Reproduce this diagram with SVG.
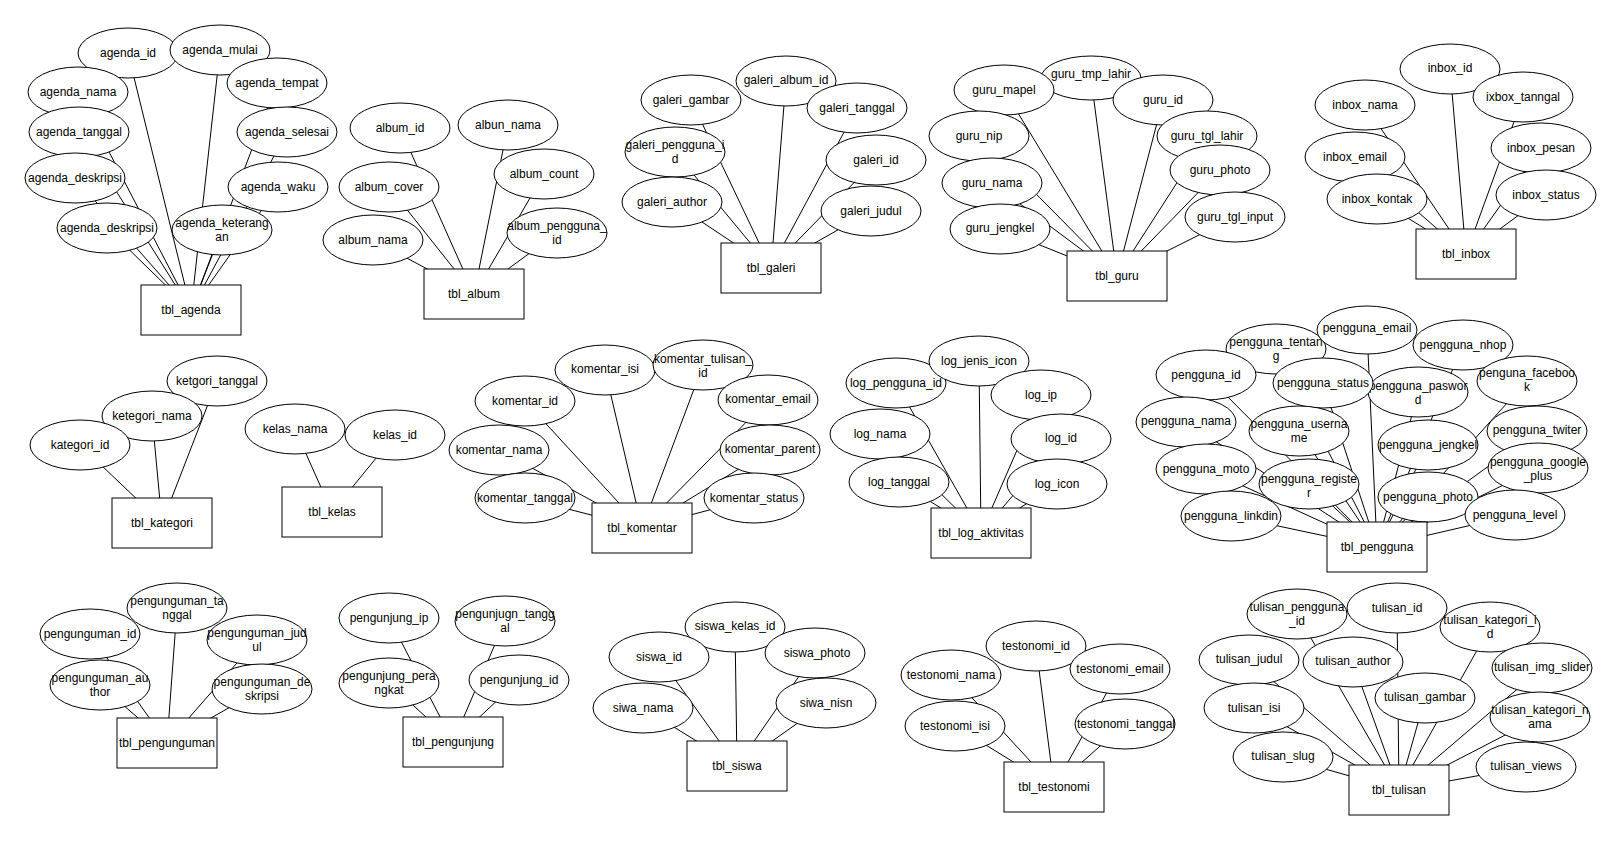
<svg xmlns="http://www.w3.org/2000/svg" width="1622" height="841" viewBox="0 0 1622 841">
<style>
.n ellipse{fill:#fff;stroke:#000;stroke-width:1}
.n rect{fill:#fff;stroke:#000;stroke-width:1}
.n text{font-family:"Liberation Sans",Arial,sans-serif;font-size:12px;fill:#000;text-anchor:middle}
#connectors line{stroke:#000;stroke-width:1}
</style>
<rect width="1622" height="841" fill="#fff"/>
<g id="connectors">
<!-- agenda -->
<line x1="128" y1="53" x2="191" y2="310"/><line x1="220" y1="50" x2="191" y2="310"/><line x1="78" y1="92" x2="191" y2="310"/><line x1="277" y1="83" x2="191" y2="310"/><line x1="79" y1="132" x2="191" y2="310"/><line x1="287" y1="132" x2="191" y2="310"/><line x1="75" y1="178" x2="191" y2="310"/><line x1="278" y1="187" x2="191" y2="310"/><line x1="107" y1="228" x2="191" y2="310"/><line x1="222" y1="230" x2="191" y2="310"/>
<!-- album -->
<line x1="400" y1="128" x2="474" y2="294"/><line x1="508" y1="125" x2="474" y2="294"/><line x1="544" y1="174" x2="474" y2="294"/><line x1="389" y1="187" x2="474" y2="294"/><line x1="373" y1="240" x2="474" y2="294"/><line x1="557" y1="233" x2="474" y2="294"/>
<!-- galeri -->
<line x1="691" y1="100" x2="771" y2="268"/><line x1="786" y1="80" x2="771" y2="268"/><line x1="857" y1="108" x2="771" y2="268"/><line x1="675" y1="152" x2="771" y2="268"/><line x1="876" y1="160" x2="771" y2="268"/><line x1="672" y1="202" x2="771" y2="268"/><line x1="871" y1="211" x2="771" y2="268"/>
<!-- guru -->
<line x1="1091" y1="78" x2="1117" y2="276"/><line x1="1004" y1="90" x2="1117" y2="276"/><line x1="1163" y1="100" x2="1117" y2="276"/><line x1="979" y1="136" x2="1117" y2="276"/><line x1="1207" y1="136" x2="1117" y2="276"/><line x1="1220" y1="170" x2="1117" y2="276"/><line x1="992" y1="183" x2="1117" y2="276"/><line x1="1235" y1="217" x2="1117" y2="276"/><line x1="1000" y1="229" x2="1117" y2="276"/>
<!-- inbox -->
<line x1="1450" y1="69" x2="1466" y2="254"/><line x1="1365" y1="105" x2="1466" y2="254"/><line x1="1523" y1="97" x2="1466" y2="254"/><line x1="1355" y1="157" x2="1466" y2="254"/><line x1="1541" y1="148" x2="1466" y2="254"/><line x1="1377" y1="199" x2="1466" y2="254"/><line x1="1546" y1="195" x2="1466" y2="254"/>
<!-- kategori -->
<line x1="217" y1="381" x2="162" y2="523"/><line x1="152" y1="416" x2="162" y2="523"/><line x1="80" y1="445" x2="162" y2="523"/>
<!-- kelas -->
<line x1="295" y1="429" x2="332" y2="512"/><line x1="395" y1="435" x2="332" y2="512"/>
<!-- komentar -->
<line x1="605" y1="370" x2="642" y2="528"/><line x1="703" y1="365" x2="642" y2="528"/><line x1="525" y1="401" x2="642" y2="528"/><line x1="768" y1="400" x2="642" y2="528"/><line x1="499" y1="450" x2="642" y2="528"/><line x1="770" y1="450" x2="642" y2="528"/><line x1="525" y1="498" x2="642" y2="528"/><line x1="754" y1="498" x2="642" y2="528"/>
<!-- log -->
<line x1="979" y1="361" x2="981" y2="533"/><line x1="896" y1="383" x2="981" y2="533"/><line x1="1041" y1="395" x2="981" y2="533"/><line x1="880" y1="434" x2="981" y2="533"/><line x1="1061" y1="439" x2="981" y2="533"/><line x1="899" y1="482" x2="981" y2="533"/><line x1="1057" y1="484" x2="981" y2="533"/>
<!-- pengguna -->
<line x1="1367" y1="330" x2="1377" y2="547"/><line x1="1276" y1="349" x2="1377" y2="547"/><line x1="1463" y1="345" x2="1377" y2="547"/><line x1="1206" y1="375" x2="1377" y2="547"/><line x1="1323" y1="383" x2="1377" y2="547"/><line x1="1418" y1="392" x2="1377" y2="547"/><line x1="1527" y1="381" x2="1377" y2="547"/><line x1="1186" y1="422" x2="1377" y2="547"/><line x1="1299" y1="431" x2="1377" y2="547"/><line x1="1537" y1="431" x2="1377" y2="547"/><line x1="1428" y1="445" x2="1377" y2="547"/><line x1="1538" y1="468" x2="1377" y2="547"/><line x1="1206" y1="469" x2="1377" y2="547"/><line x1="1309" y1="484" x2="1377" y2="547"/><line x1="1428" y1="497" x2="1377" y2="547"/><line x1="1231" y1="516" x2="1377" y2="547"/><line x1="1515" y1="515" x2="1377" y2="547"/>
<!-- pengunguman -->
<line x1="90" y1="634" x2="167" y2="743"/><line x1="177" y1="608" x2="167" y2="743"/><line x1="257" y1="640" x2="167" y2="743"/><line x1="100" y1="685" x2="167" y2="743"/><line x1="262" y1="689" x2="167" y2="743"/>
<!-- pengunjung -->
<line x1="389" y1="618" x2="453" y2="742"/><line x1="505" y1="621" x2="453" y2="742"/><line x1="389" y1="683" x2="453" y2="742"/><line x1="519" y1="680" x2="453" y2="742"/>
<!-- siswa -->
<line x1="735" y1="627" x2="737" y2="766"/><line x1="659" y1="657" x2="737" y2="766"/><line x1="815" y1="653" x2="737" y2="766"/><line x1="643" y1="708" x2="737" y2="766"/><line x1="826" y1="703" x2="737" y2="766"/>
<!-- testonomi -->
<line x1="1036" y1="646" x2="1054" y2="787"/><line x1="951" y1="675" x2="1054" y2="787"/><line x1="1120" y1="669" x2="1054" y2="787"/><line x1="955" y1="726" x2="1054" y2="787"/><line x1="1125" y1="724" x2="1054" y2="787"/>
<!-- tulisan -->
<line x1="1297" y1="614" x2="1399" y2="790"/><line x1="1397" y1="608" x2="1399" y2="790"/><line x1="1490" y1="627" x2="1399" y2="790"/><line x1="1249" y1="660" x2="1399" y2="790"/><line x1="1353" y1="662" x2="1399" y2="790"/><line x1="1542" y1="668" x2="1399" y2="790"/><line x1="1425" y1="698" x2="1399" y2="790"/><line x1="1254" y1="708" x2="1399" y2="790"/><line x1="1540" y1="717" x2="1399" y2="790"/><line x1="1283" y1="757" x2="1399" y2="790"/><line x1="1526" y1="767" x2="1399" y2="790"/>
</g>

<g class="n">
<!-- agenda -->
<g id="agenda_id"><ellipse cx="128" cy="53" rx="50" ry="25"/><text x="128" y="57">agenda_id</text></g>
<g id="agenda_mulai"><ellipse cx="220" cy="50" rx="50" ry="25"/><text x="220" y="54">agenda_mulai</text></g>
<g id="agenda_nama"><ellipse cx="78" cy="92" rx="50" ry="25"/><text x="78" y="96">agenda_nama</text></g>
<g id="agenda_tempat"><ellipse cx="277" cy="83" rx="50" ry="25"/><text x="277" y="87">agenda_tempat</text></g>
<g id="agenda_tanggal"><ellipse cx="79" cy="132" rx="50" ry="25"/><text x="79" y="136">agenda_tanggal</text></g>
<g id="agenda_selesai"><ellipse cx="287" cy="132" rx="50" ry="25"/><text x="287" y="136">agenda_selesai</text></g>
<g id="agenda_deskripsi_1"><ellipse cx="75" cy="178" rx="50" ry="25"/><text x="75" y="182">agenda_deskripsi</text></g>
<g id="agenda_waku"><ellipse cx="278" cy="187" rx="50" ry="25"/><text x="278" y="191">agenda_waku</text></g>
<g id="agenda_deskripsi_2"><ellipse cx="107" cy="228" rx="50" ry="25"/><text x="107" y="232">agenda_deskripsi</text></g>
<g id="agenda_keterangan"><ellipse cx="222" cy="230" rx="50" ry="25"/><text x="222" y="227">agenda_keterang</text><text x="222" y="241">an</text></g>
<g id="tbl_agenda"><rect x="141" y="285" width="100" height="50"/><text x="191" y="314">tbl_agenda</text></g>

<!-- album -->
<g id="album_id"><ellipse cx="400" cy="128" rx="50" ry="25"/><text x="400" y="132">album_id</text></g>
<g id="albun_nama"><ellipse cx="508" cy="125" rx="50" ry="25"/><text x="508" y="129">albun_nama</text></g>
<g id="album_count"><ellipse cx="544" cy="174" rx="50" ry="25"/><text x="544" y="178">album_count</text></g>
<g id="album_cover"><ellipse cx="389" cy="187" rx="50" ry="25"/><text x="389" y="191">album_cover</text></g>
<g id="album_nama"><ellipse cx="373" cy="240" rx="50" ry="25"/><text x="373" y="244">album_nama</text></g>
<g id="album_pengguna_id"><ellipse cx="557" cy="233" rx="50" ry="25"/><text x="557" y="230">album_pengguna_</text><text x="557" y="244">id</text></g>
<g id="tbl_album"><rect x="424" y="269" width="100" height="50"/><text x="474" y="298">tbl_album</text></g>

<!-- galeri -->
<g id="galeri_gambar"><ellipse cx="691" cy="100" rx="50" ry="25"/><text x="691" y="104">galeri_gambar</text></g>
<g id="galeri_album_id"><ellipse cx="786" cy="81" rx="50" ry="25"/><text x="786" y="84">galeri_album_id</text></g>
<g id="galeri_tanggal"><ellipse cx="857" cy="108" rx="50" ry="25"/><text x="857" y="112">galeri_tanggal</text></g>
<g id="galeri_pengguna_id"><ellipse cx="675" cy="152" rx="50" ry="25"/><text x="675" y="149">galeri_pengguna_i</text><text x="675" y="163">d</text></g>
<g id="galeri_id"><ellipse cx="876" cy="160" rx="50" ry="25"/><text x="876" y="164">galeri_id</text></g>
<g id="galeri_author"><ellipse cx="672" cy="202" rx="50" ry="25"/><text x="672" y="206">galeri_author</text></g>
<g id="galeri_judul"><ellipse cx="871" cy="211" rx="50" ry="25"/><text x="871" y="215">galeri_judul</text></g>
<g id="tbl_galeri"><rect x="721" y="243" width="100" height="50"/><text x="771" y="272">tbl_galeri</text></g>

<!-- guru -->
<g id="guru_tmp_lahir"><ellipse cx="1091" cy="78" rx="50" ry="22"/><text x="1091" y="78">guru_tmp_lahir</text></g>
<g id="guru_mapel"><ellipse cx="1004" cy="90" rx="50" ry="25"/><text x="1004" y="94">guru_mapel</text></g>
<g id="guru_id"><ellipse cx="1163" cy="100" rx="50" ry="25"/><text x="1163" y="104">guru_id</text></g>
<g id="guru_nip"><ellipse cx="979" cy="136" rx="50" ry="25"/><text x="979" y="140">guru_nip</text></g>
<g id="guru_tgl_lahir"><ellipse cx="1207" cy="136" rx="50" ry="25"/><text x="1207" y="140">guru_tgl_lahir</text></g>
<g id="guru_photo"><ellipse cx="1220" cy="170" rx="50" ry="25"/><text x="1220" y="174">guru_photo</text></g>
<g id="guru_nama"><ellipse cx="992" cy="183" rx="50" ry="25"/><text x="992" y="187">guru_nama</text></g>
<g id="guru_tgl_input"><ellipse cx="1235" cy="217" rx="50" ry="25"/><text x="1235" y="221">guru_tgl_input</text></g>
<g id="guru_jengkel"><ellipse cx="1000" cy="229" rx="50" ry="25"/><text x="1000" y="232">guru_jengkel</text></g>
<g id="tbl_guru"><rect x="1067" y="251" width="100" height="50"/><text x="1117" y="280">tbl_guru</text></g>

<!-- inbox -->
<g id="inbox_id"><ellipse cx="1450" cy="69" rx="50" ry="25"/><text x="1450" y="72">inbox_id</text></g>
<g id="inbox_nama"><ellipse cx="1365" cy="105" rx="50" ry="25"/><text x="1365" y="109">inbox_nama</text></g>
<g id="ixbox_tanngal"><ellipse cx="1523" cy="97" rx="50" ry="25"/><text x="1523" y="101">ixbox_tanngal</text></g>
<g id="inbox_email"><ellipse cx="1355" cy="157" rx="50" ry="25"/><text x="1355" y="161">inbox_email</text></g>
<g id="inbox_pesan"><ellipse cx="1541" cy="148" rx="50" ry="25"/><text x="1541" y="152">inbox_pesan</text></g>
<g id="inbox_kontak"><ellipse cx="1377" cy="199" rx="50" ry="25"/><text x="1377" y="203">inbox_kontak</text></g>
<g id="inbox_status"><ellipse cx="1546" cy="195" rx="50" ry="25"/><text x="1546" y="199">inbox_status</text></g>
<g id="tbl_inbox"><rect x="1416" y="229" width="100" height="50"/><text x="1466" y="258">tbl_inbox</text></g>

<!-- kategori -->
<g id="ketgori_tanggal"><ellipse cx="217" cy="381" rx="50" ry="25"/><text x="217" y="385">ketgori_tanggal</text></g>
<g id="ketegori_nama"><ellipse cx="152" cy="416" rx="50" ry="25"/><text x="152" y="420">ketegori_nama</text></g>
<g id="kategori_id"><ellipse cx="80" cy="445" rx="50" ry="25"/><text x="80" y="449">kategori_id</text></g>
<g id="tbl_kategori"><rect x="112" y="498" width="100" height="50"/><text x="162" y="527">tbl_kategori</text></g>

<!-- kelas -->
<g id="kelas_nama"><ellipse cx="295" cy="429" rx="50" ry="25"/><text x="295" y="433">kelas_nama</text></g>
<g id="kelas_id"><ellipse cx="395" cy="435" rx="50" ry="25"/><text x="395" y="439">kelas_id</text></g>
<g id="tbl_kelas"><rect x="282" y="487" width="100" height="50"/><text x="332" y="516">tbl_kelas</text></g>

<!-- komentar -->
<g id="komentar_isi"><ellipse cx="605" cy="370" rx="50" ry="25"/><text x="605" y="373">komentar_isi</text></g>
<g id="komentar_tulisan_id"><ellipse cx="703" cy="365" rx="50" ry="25"/><text x="703" y="363">komentar_tulisan_</text><text x="703" y="377">id</text></g>
<g id="komentar_id"><ellipse cx="525" cy="401" rx="50" ry="25"/><text x="525" y="405">komentar_id</text></g>
<g id="komentar_email"><ellipse cx="768" cy="400" rx="50" ry="25"/><text x="768" y="403">komentar_email</text></g>
<g id="komentar_nama"><ellipse cx="499" cy="450" rx="50" ry="25"/><text x="499" y="454">komentar_nama</text></g>
<g id="komentar_parent"><ellipse cx="770" cy="450" rx="50" ry="25"/><text x="770" y="453">komentar_parent</text></g>
<g id="komentar_tanggal"><ellipse cx="525" cy="498" rx="50" ry="25"/><text x="525" y="502">komentar_tanggal</text></g>
<g id="komentar_status"><ellipse cx="754" cy="498" rx="50" ry="25"/><text x="754" y="502">komentar_status</text></g>
<g id="tbl_komentar"><rect x="592" y="503" width="100" height="50"/><text x="642" y="532">tbl_komentar</text></g>

<!-- log -->
<g id="log_pengguna_id"><ellipse cx="896" cy="383" rx="50" ry="25"/><text x="896" y="387">log_pengguna_id</text></g>
<g id="log_jenis_icon"><ellipse cx="979" cy="361" rx="50" ry="25"/><text x="979" y="365">log_jenis_icon</text></g>
<g id="log_ip"><ellipse cx="1041" cy="395" rx="50" ry="25"/><text x="1041" y="399">log_ip</text></g>
<g id="log_nama"><ellipse cx="880" cy="434" rx="50" ry="25"/><text x="880" y="438">log_nama</text></g>
<g id="log_id"><ellipse cx="1061" cy="439" rx="50" ry="25"/><text x="1061" y="442">log_id</text></g>
<g id="log_tanggal"><ellipse cx="899" cy="482" rx="50" ry="25"/><text x="899" y="486">log_tanggal</text></g>
<g id="log_icon"><ellipse cx="1057" cy="484" rx="50" ry="25"/><text x="1057" y="488">log_icon</text></g>
<g id="tbl_log_aktivitas"><rect x="931" y="508" width="100" height="50"/><text x="981" y="537">tbl_log_aktivitas</text></g>

<!-- pengguna -->
<g id="pengguna_tentang"><ellipse cx="1276" cy="349" rx="50" ry="25"/><text x="1276" y="346">pengguna_tentan</text><text x="1276" y="360">g</text></g>
<g id="pengguna_email"><ellipse cx="1367" cy="330" rx="50" ry="24"/><text x="1367" y="332">pengguna_email</text></g>
<g id="pengguna_nhop"><ellipse cx="1463" cy="345" rx="50" ry="25"/><text x="1463" y="349">pengguna_nhop</text></g>
<g id="pengguna_id"><ellipse cx="1206" cy="375" rx="50" ry="25"/><text x="1206" y="379">pengguna_id</text></g>
<g id="pengguna_pasword"><ellipse cx="1418" cy="392" rx="50" ry="25"/><text x="1418" y="390">pengguna_paswor</text><text x="1418" y="404">d</text></g>
<g id="pengguna_status"><ellipse cx="1323" cy="383" rx="50" ry="25"/><text x="1323" y="387">pengguna_status</text></g>
<g id="penguna_facebook"><ellipse cx="1527" cy="381" rx="50" ry="25"/><text x="1527" y="377">penguna_faceboo</text><text x="1527" y="391">k</text></g>
<g id="pengguna_nama"><ellipse cx="1186" cy="422" rx="50" ry="25"/><text x="1186" y="425">pengguna_nama</text></g>
<g id="pengguna_username"><ellipse cx="1299" cy="431" rx="50" ry="25"/><text x="1299" y="428">pengguna_userna</text><text x="1299" y="442">me</text></g>
<g id="pengguna_twiter"><ellipse cx="1537" cy="431" rx="50" ry="25"/><text x="1537" y="434">pengguna_twiter</text></g>
<g id="pengguna_jengkel"><ellipse cx="1428" cy="445" rx="50" ry="25"/><text x="1428" y="449">pengguna_jengkel</text></g>
<g id="pengguna_google_plus"><ellipse cx="1538" cy="468" rx="50" ry="25"/><text x="1538" y="466">pengguna_google</text><text x="1538" y="480">_plus</text></g>
<g id="pengguna_moto"><ellipse cx="1206" cy="469" rx="50" ry="25"/><text x="1206" y="473">pengguna_moto</text></g>
<g id="pengguna_register"><ellipse cx="1309" cy="484" rx="50" ry="25"/><text x="1309" y="483">pengguna_registe</text><text x="1309" y="497">r</text></g>
<g id="pengguna_photo"><ellipse cx="1428" cy="497" rx="50" ry="25"/><text x="1428" y="501">pengguna_photo</text></g>
<g id="pengguna_linkdin"><ellipse cx="1231" cy="516" rx="50" ry="25"/><text x="1231" y="520">pengguna_linkdin</text></g>
<g id="pengguna_level"><ellipse cx="1515" cy="515" rx="50" ry="25"/><text x="1515" y="519">pengguna_level</text></g>
<g id="tbl_pengguna"><rect x="1327" y="522" width="100" height="50"/><text x="1377" y="551">tbl_pengguna</text></g>

<!-- pengunguman -->
<g id="pengunguman_id"><ellipse cx="90" cy="634" rx="50" ry="25"/><text x="90" y="638">pengunguman_id</text></g>
<g id="pengunguman_tanggal"><ellipse cx="177" cy="608" rx="50" ry="25"/><text x="177" y="605">pengunguman_ta</text><text x="177" y="619">nggal</text></g>
<g id="pengunguman_judul"><ellipse cx="257" cy="640" rx="50" ry="25"/><text x="257" y="637">pengunguman_jud</text><text x="257" y="651">ul</text></g>
<g id="pengunguman_author"><ellipse cx="100" cy="685" rx="50" ry="25"/><text x="100" y="682">pengunguman_au</text><text x="100" y="696">thor</text></g>
<g id="pengunguman_deskripsi"><ellipse cx="262" cy="689" rx="50" ry="25"/><text x="262" y="686">pengunguman_de</text><text x="262" y="700">skripsi</text></g>
<g id="tbl_pengunguman"><rect x="117" y="718" width="100" height="50"/><text x="167" y="747">tbl_pengunguman</text></g>

<!-- pengunjung -->
<g id="pengunjung_ip"><ellipse cx="389" cy="618" rx="50" ry="25"/><text x="389" y="622">pengunjung_ip</text></g>
<g id="pengunjugn_tanggal"><ellipse cx="505" cy="621" rx="50" ry="25"/><text x="505" y="618">pengunjugn_tangg</text><text x="505" y="632">al</text></g>
<g id="pengunjung_perangkat"><ellipse cx="389" cy="683" rx="50" ry="25"/><text x="389" y="680">pengunjung_pera</text><text x="389" y="694">ngkat</text></g>
<g id="pengunjung_id"><ellipse cx="519" cy="680" rx="50" ry="25"/><text x="519" y="684">pengunjung_id</text></g>
<g id="tbl_pengunjung"><rect x="403" y="717" width="100" height="50"/><text x="453" y="746">tbl_pengunjung</text></g>

<!-- siswa -->
<g id="siswa_kelas_id"><ellipse cx="735" cy="627" rx="50" ry="25"/><text x="735" y="630">siswa_kelas_id</text></g>
<g id="siswa_id"><ellipse cx="659" cy="657" rx="50" ry="25"/><text x="659" y="661">siswa_id</text></g>
<g id="siswa_photo"><ellipse cx="815" cy="653" rx="50" ry="25"/><text x="817" y="657">siswa_photo</text></g>
<g id="siwa_nama"><ellipse cx="643" cy="708" rx="50" ry="25"/><text x="643" y="712">siwa_nama</text></g>
<g id="siwa_nisn"><ellipse cx="826" cy="703" rx="50" ry="25"/><text x="826" y="707">siwa_nisn</text></g>
<g id="tbl_siswa"><rect x="687" y="741" width="100" height="50"/><text x="737" y="770">tbl_siswa</text></g>

<!-- testonomi -->
<g id="testonomi_id"><ellipse cx="1036" cy="646" rx="50" ry="25"/><text x="1036" y="650">testonomi_id</text></g>
<g id="testonomi_nama"><ellipse cx="951" cy="675" rx="50" ry="25"/><text x="951" y="679">testonomi_nama</text></g>
<g id="testonomi_email"><ellipse cx="1120" cy="669" rx="50" ry="25"/><text x="1120" y="673">testonomi_email</text></g>
<g id="testonomi_isi"><ellipse cx="955" cy="726" rx="50" ry="25"/><text x="955" y="730">testonomi_isi</text></g>
<g id="testonomi_tanggal"><ellipse cx="1125" cy="724" rx="50" ry="25"/><text x="1126" y="728">testonomi_tanggal</text></g>
<g id="tbl_testonomi"><rect x="1004" y="762" width="100" height="50"/><text x="1054" y="791">tbl_testonomi</text></g>

<!-- tulisan -->
<g id="tulisan_pengguna_id"><ellipse cx="1297" cy="614" rx="50" ry="25"/><text x="1297" y="611">tulisan_pengguna</text><text x="1297" y="625">_id</text></g>
<g id="tulisan_id"><ellipse cx="1397" cy="608" rx="50" ry="25"/><text x="1397" y="612">tulisan_id</text></g>
<g id="tulisan_kategori_id"><ellipse cx="1490" cy="627" rx="50" ry="25"/><text x="1490" y="624">tulisan_kategori_i</text><text x="1490" y="638">d</text></g>
<g id="tulisan_judul"><ellipse cx="1249" cy="660" rx="50" ry="25"/><text x="1249" y="663">tulisan_judul</text></g>
<g id="tulisan_author"><ellipse cx="1353" cy="662" rx="50" ry="25"/><text x="1353" y="665">tulisan_author</text></g>
<g id="tulisan_img_slider"><ellipse cx="1542" cy="668" rx="50" ry="25"/><text x="1542" y="671">tulisan_img_slider</text></g>
<g id="tulisan_gambar"><ellipse cx="1425" cy="698" rx="50" ry="25"/><text x="1425" y="701">tulisan_gambar</text></g>
<g id="tulisan_isi"><ellipse cx="1254" cy="708" rx="50" ry="25"/><text x="1254" y="712">tulisan_isi</text></g>
<g id="tulisan_kategori_nama"><ellipse cx="1540" cy="717" rx="50" ry="25"/><text x="1540" y="714">tulisan_kategori_n</text><text x="1540" y="728">ama</text></g>
<g id="tulisan_slug"><ellipse cx="1283" cy="757" rx="50" ry="25"/><text x="1283" y="760">tulisan_slug</text></g>
<g id="tulisan_views"><ellipse cx="1526" cy="767" rx="50" ry="25"/><text x="1526" y="770">tulisan_views</text></g>
<g id="tbl_tulisan"><rect x="1349" y="765" width="100" height="50"/><text x="1399" y="794">tbl_tulisan</text></g>
</g>
</svg>
